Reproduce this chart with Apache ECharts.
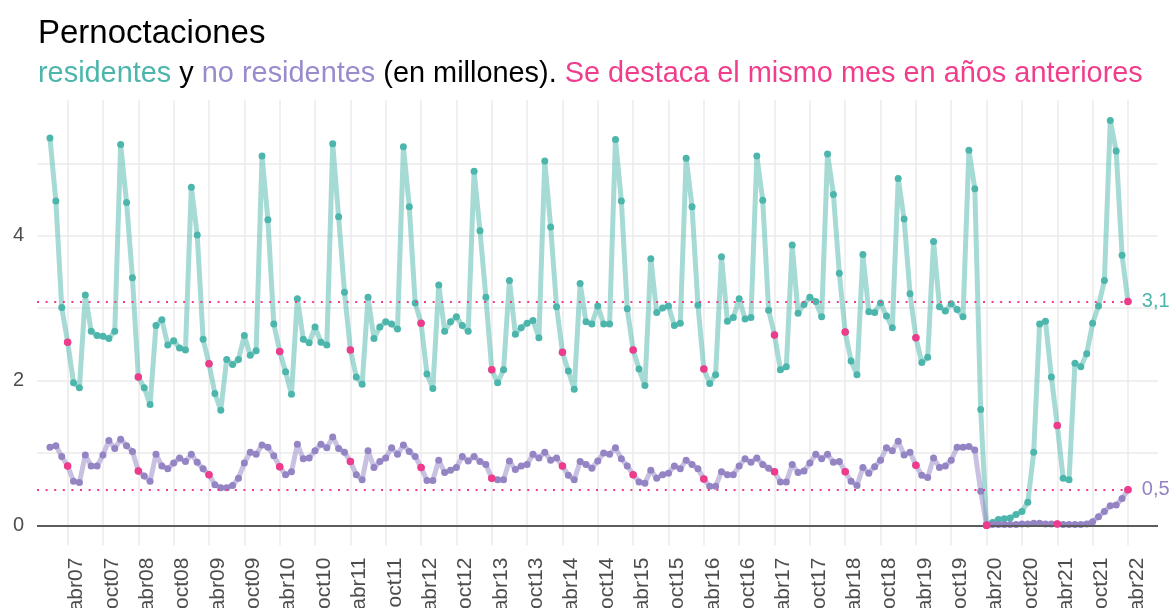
<!DOCTYPE html>
<html lang="es">
<head>
<meta charset="UTF-8">
<title>Pernoctaciones</title>
<script src="https://cdn.jsdelivr.net/npm/echarts@6/dist/echarts.min.js"></script>
<style>
html,body{margin:0;padding:0;background:#fff;}
#main{width:1173px;height:608px;}
</style>
</head>
<body>
<div id="main"></div>
<script>
// pernoctaciones mensuales (millones), de ene07 a abr22
var residentes = [
  5.35, 4.48, 3.01, 2.53, 1.97, 1.90, 3.18, 2.68, 2.62, 2.61, 2.58, 2.68,
  5.26, 4.46, 3.42, 2.05, 1.90, 1.67, 2.76, 2.84, 2.49, 2.55, 2.45, 2.42,
  4.67, 4.01, 2.57, 2.23, 1.82, 1.59, 2.29, 2.22, 2.29, 2.62, 2.35, 2.41,
  5.10, 4.22, 2.78, 2.40, 2.12, 1.81, 3.13, 2.57, 2.52, 2.74, 2.53, 2.49,
  5.27, 4.26, 3.22, 2.42, 2.05, 1.95, 3.15, 2.58, 2.74, 2.81, 2.78, 2.71,
  5.23, 4.40, 3.07, 2.79, 2.09, 1.89, 3.32, 2.68, 2.81, 2.88, 2.76, 2.68,
  4.89, 4.07, 3.15, 2.15, 1.97, 2.15, 3.38, 2.64, 2.73, 2.79, 2.83, 2.59,
  5.03, 4.12, 3.02, 2.39, 2.13, 1.88, 3.34, 2.81, 2.78, 3.03, 2.78, 2.78,
  5.33, 4.48, 2.99, 2.42, 2.16, 1.93, 3.68, 2.94, 3.00, 3.03, 2.76, 2.79,
  5.07, 4.40, 3.04, 2.16, 1.96, 2.08, 3.71, 2.82, 2.87, 3.13, 2.85, 2.87,
  5.10, 4.49, 2.97, 2.63, 2.15, 2.19, 3.87, 2.93, 3.05, 3.15, 3.09, 2.88,
  5.13, 4.57, 3.48, 2.67, 2.27, 2.08, 3.74, 2.95, 2.94, 3.07, 2.89, 2.73,
  4.79, 4.23, 3.20, 2.59, 2.25, 2.32, 3.92, 3.02, 2.96, 3.06, 2.98, 2.88,
  5.18, 4.65, 1.60, 0.00, 0.04, 0.08, 0.09, 0.10, 0.15, 0.19, 0.32, 1.01,
  2.78, 2.82, 2.05, 1.38, 0.65, 0.63, 2.24, 2.19, 2.37, 2.79, 3.03, 3.38,
  5.59, 5.17, 3.73, 3.09
];
var noResidentes = [
  1.08, 1.10, 0.95, 0.82, 0.61, 0.59, 0.97, 0.82, 0.82, 0.97, 1.17, 1.06,
  1.19, 1.10, 1.02, 0.75, 0.68, 0.61, 0.98, 0.82, 0.78, 0.86, 0.93, 0.88,
  0.98, 0.87, 0.78, 0.70, 0.56, 0.52, 0.52, 0.55, 0.65, 0.86, 1.01, 0.98,
  1.11, 1.08, 0.96, 0.81, 0.70, 0.74, 1.12, 0.92, 0.93, 1.03, 1.12, 1.07,
  1.22, 1.06, 1.01, 0.88, 0.70, 0.63, 1.03, 0.80, 0.88, 0.93, 1.07, 0.98,
  1.11, 1.02, 0.95, 0.80, 0.62, 0.62, 0.90, 0.73, 0.76, 0.80, 0.95, 0.89,
  0.95, 0.88, 0.84, 0.65, 0.63, 0.63, 0.89, 0.77, 0.82, 0.84, 0.98, 0.93,
  1.01, 0.90, 0.93, 0.82, 0.69, 0.63, 0.88, 0.84, 0.79, 0.89, 1.00, 0.98,
  1.07, 0.92, 0.82, 0.70, 0.60, 0.58, 0.76, 0.65, 0.70, 0.72, 0.82, 0.78,
  0.90, 0.84, 0.78, 0.64, 0.54, 0.54, 0.74, 0.70, 0.70, 0.82, 0.92, 0.87,
  0.93, 0.84, 0.79, 0.74, 0.60, 0.60, 0.84, 0.73, 0.75, 0.86, 0.98, 0.92,
  0.98, 0.87, 0.88, 0.74, 0.61, 0.55, 0.80, 0.72, 0.81, 0.90, 1.07, 1.03,
  1.16, 0.97, 1.01, 0.83, 0.69, 0.66, 0.93, 0.80, 0.82, 0.90, 1.08, 1.08,
  1.09, 1.04, 0.47, 0.00, 0.01, 0.01, 0.01, 0.01, 0.01, 0.02, 0.02, 0.03,
  0.03, 0.02, 0.02, 0.02, 0.01, 0.01, 0.01, 0.01, 0.02, 0.05, 0.12, 0.19,
  0.27, 0.28, 0.37, 0.49
];
var etiquetasX = ['abr07','oct07','abr08','oct08','abr09','oct09','abr10','oct10',
  'abr11','oct11','abr12','oct12','abr13','oct13','abr14','oct14','abr15','oct15',
  'abr16','oct16','abr17','oct17','abr18','oct18','abr19','oct19','abr20','oct20',
  'abr21','oct21','abr22'];
var etiquetasY = [0, 2, 4];
var lineasY = [0, 1, 2, 3, 4, 5];

var colRes = '#4db6ac';
var colNoRes = '#9484c4';
var colRosa = '#ef3b8b';
var fuente = 'Liberation Sans';

// posición (mes desde ene07) de cada etiqueta
var posEtiquetas = etiquetasX.map(function (e) {
  var anio = parseInt(e.slice(3), 10) - 7;
  return anio * 12 + (e.slice(0, 3) == 'abr' ? 3 : 9);
});

var ultimo = residentes.length - 1;
var mesActual = ultimo % 12;
var destacados = [];
for (var i = 0; i < residentes.length; i++) {
  if (i % 12 == mesActual) {
    destacados.push([i, residentes[i]]);
    destacados.push([i, noResidentes[i]]);
  }
}
function aPares(arr) {
  return arr.map(function (v, i) { return [i, v]; });
}
function coma(v) {
  return v.toFixed(1).replace('.', ',');
}

var xMin = -2.2, xMax = 188.1, finLinea = 184.5;

var myChart = echarts.init(document.getElementById('main'));
var option = {
  animation: false,
  textStyle: { fontFamily: fuente },
  title: [
    {
      text: 'Pernoctaciones',
      left: 33, top: 12,
      textStyle: { fontFamily: fuente, fontSize: 33, fontWeight: 'normal', color: '#000' }
    },
    {
      text: '{a|residentes} y {b|no residentes} (en millones). {c|Se destaca el mismo mes en años anteriores}',
      left: 33, top: 55,
      textStyle: {
        fontFamily: fuente, fontSize: 28.9, fontWeight: 'normal', color: '#000',
        rich: {
          a: { color: colRes, fontSize: 28.9, fontFamily: fuente },
          b: { color: '#9a8bcd', fontSize: 28.9, fontFamily: fuente },
          c: { color: '#f03e8c', fontSize: 28.9, fontFamily: fuente }
        }
      }
    }
  ],
  grid: { left: 37, right: 15, top: 100.3, bottom: 62.4, outerBoundsMode: 'none' },
  xAxis: {
    type: 'value', min: xMin, max: xMax,
    axisLine: { show: false, onZero: false },
    axisTick: { show: false, customValues: posEtiquetas },
    axisLabel: {
      customValues: posEtiquetas,
      formatter: function (v) { return etiquetasX[posEtiquetas.indexOf(v)]; },
      rotate: 90, fontSize: 21, color: '#4d4d4d', margin: 12,
      verticalAlign: 'top', lineHeight: 18
    },
    splitLine: { show: true, lineStyle: { color: '#ebebeb', width: 1.5 } }
  },
  yAxis: {
    type: 'value', min: -0.28, max: 5.87,
    axisLine: { show: false },
    axisTick: { show: false, customValues: lineasY },
    axisLabel: { customValues: etiquetasY, fontSize: 20, color: '#4d4d4d', margin: 13 },
    splitLine: { show: true, lineStyle: { color: '#ebebeb', width: 1.5 } }
  },
  series: [
    {
      name: 'residentes', type: 'line',
      data: aPares(residentes),
      symbol: 'circle', symbolSize: 7,
      itemStyle: { color: colRes },
      lineStyle: { color: colRes, width: 5, opacity: 0.5 },
      z: 3,
      markLine: {
        silent: true, symbol: 'none', animation: false,
        data: [
          [{ coord: [xMin, 0], lineStyle: { color: '#5c5c5c', width: 2, type: 'solid' }, label: { show: false } },
           { coord: [xMax, 0] }],
          [{ coord: [xMin, residentes[ultimo]], lineStyle: { color: colRosa, width: 2, type: [2, 6.6] },
             label: { show: true, position: 'end', distance: 5, formatter: coma(residentes[ultimo]), color: colRes, fontSize: 20 } },
           { coord: [finLinea, residentes[ultimo]] }],
          [{ coord: [xMin, noResidentes[ultimo]], lineStyle: { color: colRosa, width: 2, type: [2, 6.6] },
             label: { show: true, position: 'end', distance: 5, formatter: coma(noResidentes[ultimo]), color: colNoRes, fontSize: 20 } },
           { coord: [finLinea, noResidentes[ultimo]] }]
        ]
      }
    },
    {
      name: 'no residentes', type: 'line',
      data: aPares(noResidentes),
      symbol: 'circle', symbolSize: 7,
      itemStyle: { color: colNoRes },
      lineStyle: { color: colNoRes, width: 5, opacity: 0.5 },
      z: 4
    },
    {
      name: 'mismo mes', type: 'scatter',
      data: destacados,
      symbolSize: 7.5,
      itemStyle: { color: colRosa, opacity: 1 },
      z: 5
    }
  ]
};
myChart.setOption(option);
</script>
</body>
</html>
